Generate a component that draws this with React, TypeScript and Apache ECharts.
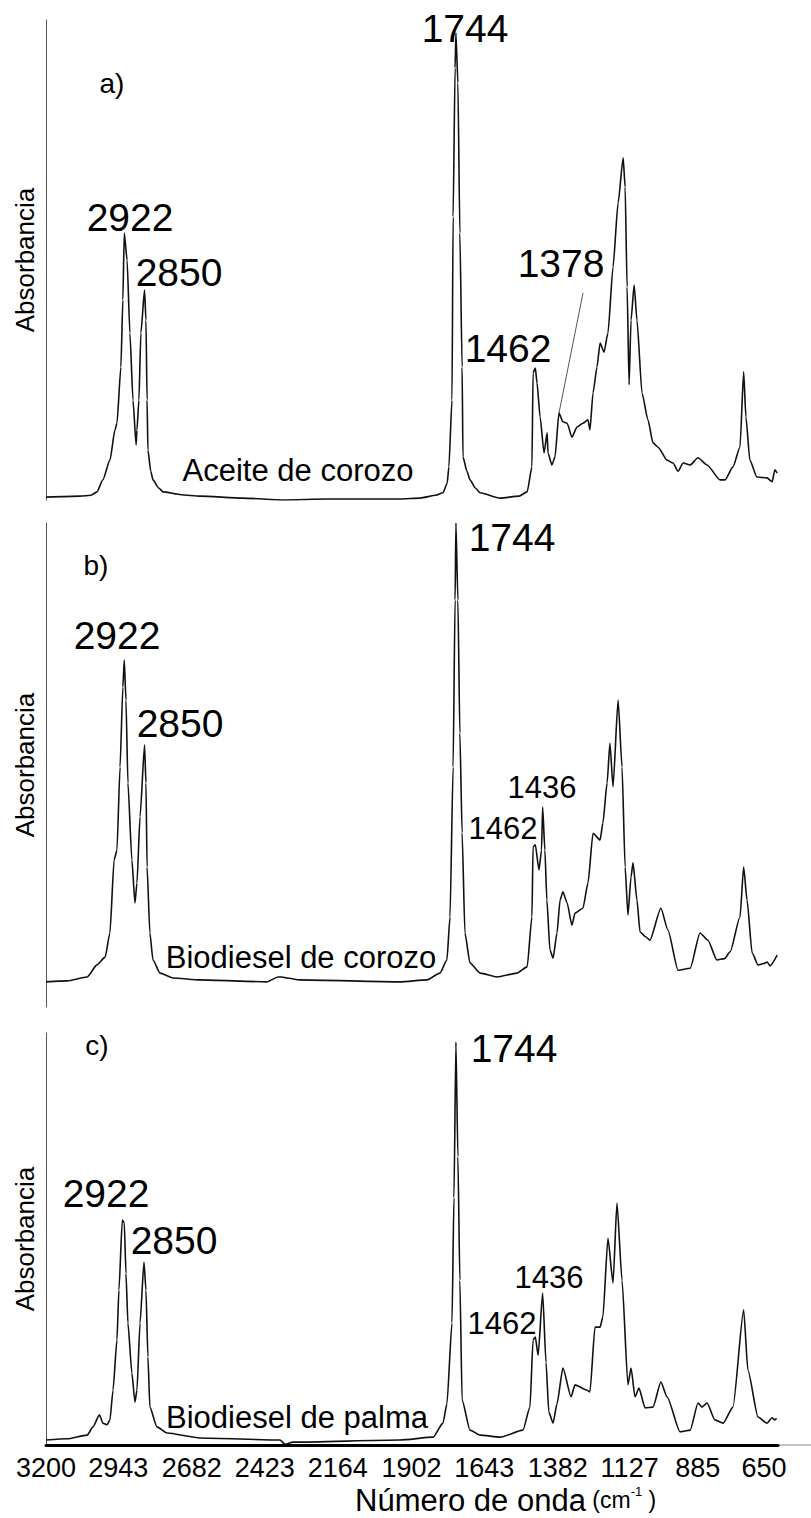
import { useEffect, useRef } from "react";
import * as echarts from "echarts";

// Tick labels on the wavenumber axis (cm-1)
const wavenumberTicks = [3200, 2943, 2682, 2423, 2164, 1902, 1643, 1382, 1127, 885, 650];

// a) Aceite de corozo  [wavenumber, relative absorbance]
const aceiteCorozo: [number, number][] = [
  [3200, 0.006], [3079, 0.008], [3040, 0.01], [3019, 0.017], [2998, 0.042], [2973, 0.083], [2955, 0.146],
  [2948, 0.16], [2934, 0.277], [2927, 0.417], [2922, 0.556], [2912, 0.5], [2902, 0.348],
  [2891, 0.208], [2880, 0.115], [2877, 0.146], [2870, 0.208], [2863, 0.348], [2850, 0.4375],
  [2845, 0.375], [2841, 0.208], [2838, 0.104], [2828, 0.06], [2820, 0.042], [2800, 0.025], [2784, 0.017], [2720, 0.011], [2653, 0.008],
  [2500, 0.004], [2358, 0.0], [2200, 0.002], [1943, 0.002], [1871, 0.004], [1815, 0.01],
  [1790, 0.015], [1775, 0.035], [1769, 0.069], [1758, 0.208], [1754, 0.59], [1747, 0.9], [1744, 0.973],
  [1737, 0.869], [1730, 0.556], [1722, 0.277], [1719, 0.09], [1705, 0.06], [1694, 0.042], [1675, 0.025], [1658, 0.015],
  [1587, 0.004], [1520, 0.008], [1491, 0.017], [1474, 0.069], [1470, 0.265], [1462, 0.275], [1456, 0.244],
  [1445, 0.173], [1431, 0.098], [1420, 0.14], [1417, 0.098], [1403, 0.073], [1392, 0.09],
  [1378, 0.181], [1364, 0.163], [1349, 0.16], [1332, 0.131], [1314, 0.152], [1293, 0.16],
  [1275, 0.167], [1268, 0.146], [1257, 0.223], [1243, 0.277], [1232, 0.327], [1218, 0.308],
  [1204, 0.348], [1186, 0.485], [1168, 0.619], [1150, 0.713], [1143, 0.652], [1136, 0.444],
  [1129, 0.24], [1122, 0.375], [1111, 0.448], [1101, 0.375], [1083, 0.223], [1062, 0.167],
  [1044, 0.119], [1026, 0.11], [994, 0.083], [973, 0.077], [955, 0.06], [937, 0.077], [912, 0.073],
  [884, 0.088], [852, 0.073], [806, 0.042], [788, 0.042], [760, 0.069], [735, 0.11],
  [722, 0.267], [714, 0.173], [700, 0.083], [675, 0.048], [639, 0.046], [621, 0.038],
  [611, 0.063], [603, 0.056],
];

// b) Biodiesel de corozo
const biodieselCorozo: [number, number][] = [
  [3200, 0.052], [3125, 0.054], [3054, 0.062], [3019, 0.087], [2990, 0.103], [2973, 0.153],
  [2958, 0.304], [2948, 0.324], [2937, 0.496], [2927, 0.661], [2922, 0.717], [2916, 0.634],
  [2909, 0.463], [2895, 0.304], [2884, 0.215], [2877, 0.256], [2866, 0.393], [2850, 0.541],
  [2845, 0.463], [2841, 0.289], [2831, 0.153], [2820, 0.097], [2795, 0.07], [2749, 0.06],
  [2653, 0.056], [2415, 0.052], [2376, 0.062], [2362, 0.062], [2344, 0.06], [2298, 0.056],
  [1943, 0.052], [1847, 0.056], [1801, 0.07], [1776, 0.097], [1765, 0.186], [1754, 0.496],
  [1747, 0.841], [1744, 1.0], [1737, 0.841], [1730, 0.566], [1722, 0.36], [1712, 0.153],
  [1694, 0.091], [1658, 0.07], [1598, 0.062], [1527, 0.07], [1491, 0.083], [1474, 0.186],
  [1470, 0.331], [1462, 0.335], [1449, 0.283], [1440, 0.324], [1436, 0.413], [1428, 0.324],
  [1421, 0.221], [1410, 0.118], [1399, 0.101], [1385, 0.153], [1374, 0.221], [1364, 0.238],
  [1349, 0.215], [1332, 0.169], [1321, 0.194], [1293, 0.204], [1275, 0.256], [1257, 0.359],
  [1232, 0.345], [1222, 0.38], [1207, 0.463], [1197, 0.545], [1186, 0.455], [1168, 0.634],
  [1154, 0.496], [1143, 0.289], [1133, 0.19], [1122, 0.269], [1115, 0.298], [1101, 0.221],
  [1090, 0.155], [1070, 0.145], [1055, 0.138], [1016, 0.204], [991, 0.159], [955, 0.076], [912, 0.08],
  [877, 0.153], [849, 0.138], [817, 0.097], [790, 0.1], [770, 0.114], [735, 0.186], [722, 0.289],
  [710, 0.221], [692, 0.112], [671, 0.087], [650, 0.09], [639, 0.093], [628, 0.085], [603, 0.107],
];

// c) Biodiesel de palma
const biodieselPalma: [number, number][] = [
  [3200, 0.012], [3125, 0.015], [3054, 0.024], [3033, 0.044], [3010, 0.073], [2998, 0.053],
  [2983, 0.049], [2973, 0.061], [2962, 0.133], [2948, 0.255], [2941, 0.376], [2929, 0.546],
  [2922, 0.539], [2916, 0.417], [2909, 0.296], [2895, 0.175], [2884, 0.104], [2877, 0.133],
  [2866, 0.296], [2852, 0.444], [2845, 0.376], [2838, 0.214], [2831, 0.092], [2806, 0.044],
  [2770, 0.029], [2653, 0.017], [2369, 0.012], [2351, 0.002], [2323, 0.007], [1943, 0.012],
  [1825, 0.019], [1790, 0.053], [1776, 0.1], [1758, 0.296], [1751, 0.6], [1744, 0.978],
  [1737, 0.7], [1730, 0.4], [1722, 0.109], [1694, 0.036], [1658, 0.024], [1587, 0.019],
  [1506, 0.036], [1481, 0.092], [1470, 0.255], [1462, 0.262], [1452, 0.218], [1436, 0.369],
  [1424, 0.2], [1414, 0.08], [1399, 0.053], [1385, 0.1], [1364, 0.187], [1335, 0.117],
  [1321, 0.146], [1278, 0.133], [1268, 0.129], [1250, 0.286], [1232, 0.286], [1222, 0.311],
  [1204, 0.502], [1186, 0.393], [1172, 0.587], [1154, 0.4], [1133, 0.146], [1122, 0.187],
  [1108, 0.117], [1094, 0.138], [1072, 0.09], [1044, 0.092], [1016, 0.153], [994, 0.117],
  [948, 0.032], [912, 0.036], [884, 0.102], [870, 0.092], [852, 0.102], [824, 0.061],
  [795, 0.053], [760, 0.092], [722, 0.328], [707, 0.182], [671, 0.068], [639, 0.053],
  [621, 0.066], [611, 0.061], [605, 0.065],
];

const spectra = [aceiteCorozo, biodieselCorozo, biodieselPalma];
const sampleNames = ["Aceite de corozo", "Biodiesel de corozo", "Biodiesel de palma"];
const panelLetters = ["a)", "b)", "c)"];
const yAxisTitle = "Absorbancia";

export default function App() {
  const ref = useRef<HTMLDivElement>(null);

  useEffect(() => {
    document.body.style.margin = "0";
    const chart = echarts.init(ref.current!, null, { renderer: "svg" });
    const FONT = "'Liberation Sans', Arial, sans-serif";

    const gridBoxes = [
      { left: 46, width: 732, top: 20, height: 480 },
      { left: 46, width: 732, top: 523, height: 484 },
      { left: 46, width: 732, top: 1033, height: 412 },
    ];

    const txt = (text: string, x: number, y: number, size: number, align = "center") => ({
      type: "text",
      x,
      y,
      silent: true,
      style: {
        text,
        fill: "#000",
        fontSize: size,
        fontFamily: FONT,
        align,
        verticalAlign: "middle",
      },
    });

    const graphic: any[] = [
      // panel a
      txt(panelLetters[0], 112, 83, 28),
      txt("2922", 130, 217, 39),
      txt("2850", 179, 272, 39),
      txt("1744", 465, 28, 39),
      txt("1462", 508, 348, 39),
      txt("1378", 561, 263, 39),
      txt(sampleNames[0], 298, 470, 31),
      {
        type: "line",
        silent: true,
        shape: { x1: 583, y1: 293, x2: 559, y2: 413 },
        style: { stroke: "#555", lineWidth: 1 },
      },
      // panel b
      txt(panelLetters[1], 96, 565, 28),
      txt("2922", 117, 635, 39),
      txt("2850", 180, 723, 39),
      txt("1744", 512, 537, 39),
      txt("1436", 542, 787, 31),
      txt("1462", 503, 828, 31),
      txt(sampleNames[1], 301, 957, 31),
      // panel c
      txt(panelLetters[2], 97, 1045, 28),
      txt("2922", 106, 1193, 39),
      txt("2850", 174, 1240, 39),
      txt("1744", 514, 1048, 39),
      txt("1436", 549, 1277, 31),
      txt("1462", 502, 1323, 31),
      txt(sampleNames[2], 297, 1417, 31),
      // axis extension line
      {
        type: "line",
        silent: true,
        shape: { x1: 778, y1: 1445, x2: 811, y2: 1445 },
        style: { stroke: "#888", lineWidth: 1 },
      },
      // x axis title
      {
        type: "text",
        x: 355,
        y: 1500,
        silent: true,
        style: {
          text: "{t|Número de onda}{p| (cm}{s|-1}{p| )}",
          verticalAlign: "middle",
          align: "left",
          fill: "#000",
          rich: {
            t: { fontSize: 31, fontFamily: FONT, fill: "#000", verticalAlign: "middle" },
            p: { fontSize: 23, fontFamily: FONT, fill: "#000", verticalAlign: "middle" },
            s: { fontSize: 13, fontFamily: FONT, fill: "#000", verticalAlign: "top" },
          },
        },
      },
    ];

    const option: any = {
      animation: false,
      backgroundColor: "#fff",
      grid: gridBoxes.map((g) => ({ ...g, containLabel: false })),
      xAxis: gridBoxes.map((_, i) => ({
        type: "value",
        gridIndex: i,
        min: 600,
        max: 3200,
        inverse: true,
        show: i === 2,
        splitLine: { show: false },
        axisTick: { show: false },
        axisLine: { show: i === 2, onZero: false, lineStyle: { color: "#000", width: 3 } },
        axisLabel: {
          show: i === 2,
          customValues: wavenumberTicks,
          formatter: (v: number) => String(v),
          showMinLabel: true,
          showMaxLabel: true,
          hideOverlap: false,
          color: "#000",
          fontSize: 27,
          fontFamily: FONT,
          margin: 9,
        },
      })),
      yAxis: gridBoxes.map((_, i) => ({
        type: "value",
        gridIndex: i,
        min: 0,
        max: 1,
        name: yAxisTitle,
        nameLocation: "middle",
        nameGap: 8,
        nameTextStyle: { fontSize: 26, fontFamily: FONT, color: "#000" },
        splitLine: { show: false },
        axisTick: { show: false },
        axisLabel: { show: false },
        axisLine: { show: true, lineStyle: { color: "#555", width: 1 } },
      })),
      series: spectra.map((data, i) => ({
        type: "line",
        name: sampleNames[i],
        xAxisIndex: i,
        yAxisIndex: i,
        data,
        showSymbol: false,
        symbol: "none",
        smooth: 0.2,
        smoothMonotone: "x",
        lineStyle: { color: "#111", width: 1.6 },
        silent: true,
      })),
      graphic,
    };

    chart.setOption(option);
    return () => chart.dispose();
  }, []);

  return <div ref={ref} style={{ width: 811, height: 1518 }} />;
}
